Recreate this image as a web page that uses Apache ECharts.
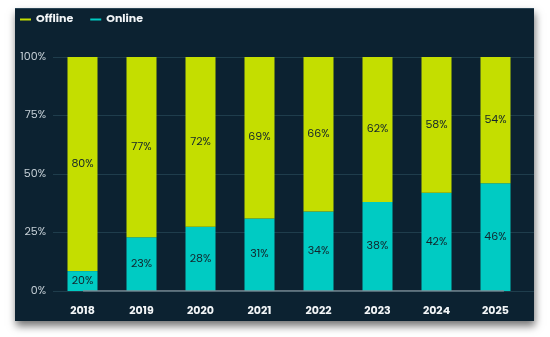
<!DOCTYPE html>
<html><head><meta charset="utf-8">
<script src="https://cdn.jsdelivr.net/npm/echarts@6/dist/echarts.min.js"></script>
<style>
html,body{margin:0;padding:0;background:#fff;width:550px;height:337px;overflow:hidden;}
#card{position:absolute;left:15px;top:8px;width:519px;height:313px;background:#0c2231;box-shadow:1px 5px 8px rgba(0,0,0,0.55);border-top:1px solid #2b4656;box-sizing:border-box;}
#chart{position:absolute;left:0;top:0;width:550px;height:337px;}
</style></head>
<body>
<div id="card"></div>
<div id="chart"></div>
<script>
const years = ['2018','2019','2020','2021','2022','2023','2024','2025'];
// bar heights as drawn in the picture
const onlineHeights = [8.5, 23, 27.5, 31, 34, 38, 42, 46];
const offlineHeights = [91.5, 77, 72.5, 69, 66, 62, 58, 54];
// labels as printed
const onlineLabels = ['20%','23%','28%','31%','34%','38%','42%','46%'];
const offlineLabels = ['80%','77%','72%','69%','66%','62%','58%','54%'];
const yTicks = [0, 25, 50, 75, 100];

const chart = echarts.init(document.getElementById('chart'), null, {renderer:'canvas'});
const font = 'Poppins, "Open Sans", Lato, sans-serif';
chart.setOption({
  backgroundColor: 'transparent',
  animation: false,
  legend: {
    left: 15, top: 9, itemGap: 17, itemWidth: 11, itemHeight: 2, icon: 'rect',
    textStyle: {color: '#f2f5f7', fontWeight: 'bold', fontSize: 11, fontFamily: font},
    data: ['Offline','Online']
  },
  grid: [
    {left: 53, right: 16, top: 57, bottom: 46},
    {left: 53, right: 25, top: 57, bottom: 46}
  ],
  xAxis: [
    {gridIndex: 0, type: 'category', data: years, show: false},
    {gridIndex: 1, type: 'category', data: years,
     axisLine: {show: false}, axisTick: {show: false},
     axisLabel: {color: '#f2f5f7', fontWeight: 'bold', fontSize: 11, fontFamily: font, margin: 15}}
  ],
  yAxis: [
    {gridIndex: 0, type: 'value', min: 0, max: 100, interval: 25,
     axisLine: {show: false}, axisTick: {show: false},
     axisLabel: {color: '#c5cfd6', fontSize: 11, fontFamily: font, margin: 7,
       formatter: v => yTicks.includes(v) ? v + '%' : ''},
     splitLine: {show: true, lineStyle: {color: '#1f3d4c', width: 1}}},
    {gridIndex: 1, type: 'value', min: 0, max: 100, interval: 25, show: false}
  ],
  series: [
    {type: 'line', xAxisIndex: 0, yAxisIndex: 0, data: years.map(() => 0), symbol: 'none',
     lineStyle: {color: '#7d8d96', width: 1.5}, silent: true, z: 5, legendHoverLink: false, name: '_axis'},
    {name: 'Online', type: 'bar', stack: 's', xAxisIndex: 1, yAxisIndex: 1, data: onlineHeights,
     barWidth: 30, itemStyle: {color: '#00cbc3'},
     label: {show: true, position: 'inside', color: '#12252c', fontSize: 11, fontFamily: font,
       formatter: p => onlineLabels[p.dataIndex]}},
    {name: 'Offline', type: 'bar', stack: 's', xAxisIndex: 1, yAxisIndex: 1, data: offlineHeights,
     barWidth: 30, itemStyle: {color: '#c4de00'},
     label: {show: true, position: 'inside', color: '#12252c', fontSize: 11, fontFamily: font,
       formatter: p => offlineLabels[p.dataIndex]}}
  ]
});
</script>
</body></html>
